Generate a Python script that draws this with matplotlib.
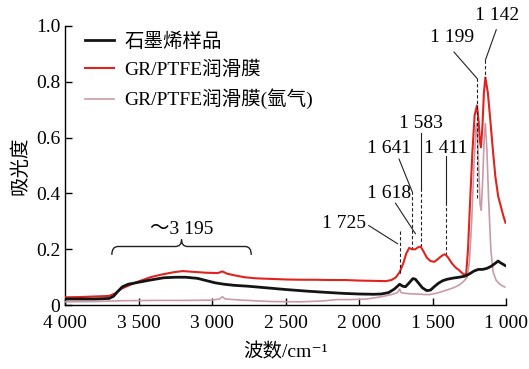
import matplotlib
matplotlib.use("Agg")
import matplotlib.pyplot as plt
from matplotlib.path import Path
from matplotlib.patches import PathPatch

plt.rcParams['font.family'] = ['Liberation Serif', 'Noto Sans CJK SC', 'DejaVu Serif']
plt.rcParams['font.size'] = 14

# 石墨烯样品
graphene_x = [4000, 3800, 3700, 3670, 3640, 3610, 3570, 3500, 3420, 3330, 3250, 3180,
              3100, 3040, 2980, 2920, 2850, 2760, 2650, 2500, 2350, 2200, 2100, 2000,
              1900, 1850, 1800, 1760, 1735, 1725, 1705, 1685, 1660, 1635, 1618, 1595,
              1570, 1540, 1515, 1490, 1460, 1430, 1400, 1360, 1320, 1280, 1250, 1220,
              1190, 1160, 1130, 1100, 1070, 1055, 1040, 1020, 1008]
graphene_y = [0.022, 0.022, 0.024, 0.032, 0.050, 0.066, 0.075, 0.082, 0.090, 0.098, 0.100, 0.100,
              0.096, 0.088, 0.080, 0.075, 0.071, 0.068, 0.063, 0.056, 0.050, 0.045, 0.042, 0.040,
              0.039, 0.040, 0.045, 0.058, 0.070, 0.075, 0.068, 0.066, 0.080, 0.095, 0.093, 0.078,
              0.062, 0.052, 0.054, 0.066, 0.079, 0.088, 0.093, 0.097, 0.100, 0.104, 0.112, 0.122,
              0.128, 0.128, 0.132, 0.140, 0.152, 0.158, 0.152, 0.146, 0.142]

# GR/PTFE润滑膜
film_x = [4000, 3900, 3800, 3700, 3660, 3620, 3560, 3500, 3420, 3340, 3260, 3200,
          3120, 3040, 2960, 2930, 2900, 2850, 2780, 2700, 2600, 2500, 2400, 2300,
          2200, 2100, 2000, 1900, 1820, 1780, 1750, 1725, 1700, 1680, 1660, 1641,
          1620, 1600, 1583, 1565, 1540, 1515, 1490, 1465, 1440, 1420, 1411, 1395,
          1370, 1345, 1320, 1300, 1285, 1272, 1260, 1245, 1230, 1215, 1199, 1188,
          1180, 1172, 1162, 1152, 1142, 1125, 1108, 1090, 1074, 1055, 1040, 1020, 1005]
film_y = [0.028, 0.029, 0.031, 0.033, 0.042, 0.058, 0.072, 0.085, 0.100, 0.110, 0.118, 0.122,
          0.119, 0.116, 0.115, 0.121, 0.113, 0.107, 0.100, 0.096, 0.094, 0.092, 0.091, 0.091,
          0.090, 0.090, 0.088, 0.087, 0.086, 0.090, 0.100, 0.118, 0.150, 0.185, 0.205, 0.200,
          0.200, 0.207, 0.210, 0.195, 0.170, 0.158, 0.155, 0.165, 0.176, 0.182, 0.180, 0.170,
          0.150, 0.135, 0.125, 0.115, 0.108, 0.115, 0.200, 0.380, 0.550, 0.680, 0.715, 0.660,
          0.590, 0.565, 0.640, 0.760, 0.815, 0.760, 0.660, 0.550, 0.460, 0.390, 0.360, 0.320, 0.295]

# GR/PTFE润滑膜(氩气)
argon_x = [4000, 3800, 3600, 3400, 3200, 3000, 2950, 2930, 2910, 2800, 2600, 2400,
           2250, 2150, 2050, 1950, 1850, 1780, 1740, 1725, 1715, 1680, 1640, 1600,
           1560, 1520, 1480, 1440, 1400, 1360, 1320, 1290, 1265, 1250, 1235, 1220,
           1205, 1199, 1188, 1178, 1170, 1160, 1150, 1142, 1132, 1120, 1105, 1090,
           1070, 1050, 1030, 1010]
argon_y = [0.012, 0.013, 0.016, 0.017, 0.017, 0.018, 0.022, 0.030, 0.022, 0.018, 0.013, 0.012,
           0.015, 0.020, 0.020, 0.022, 0.030, 0.038, 0.045, 0.058, 0.045, 0.042, 0.040, 0.040,
           0.038, 0.038, 0.042, 0.048, 0.055, 0.062, 0.072, 0.085, 0.100, 0.160, 0.300, 0.500,
           0.640, 0.650, 0.500, 0.360, 0.340, 0.450, 0.600, 0.650, 0.560, 0.380, 0.200, 0.120,
           0.090, 0.078, 0.070, 0.065]

x_ticks = [4000, 3500, 3000, 2500, 2000, 1500, 1000]
x_tick_labels = ['4 000', '3 500', '3 000', '2 500', '2 000', '1 500', '1 000']
y_ticks = [0, 0.2, 0.4, 0.6, 0.8, 1.0]
y_tick_labels = ['0', '0.2', '0.4', '0.6', '0.8', '1.0']

fig = plt.figure(figsize=(5.29, 3.69), dpi=100)
ax = fig.add_axes([0.123, 0.173, 0.834, 0.757])

ax.plot(film_x, film_y, color='#e0231f', lw=1.5, label='GR/PTFE润滑膜', zorder=3)
ax.plot(argon_x, argon_y, color='#c99ba7', lw=1.2, label='GR/PTFE润滑膜(氩气)', zorder=4)
ax.plot(graphene_x, graphene_y, color='#141414', lw=2.0, label='石墨烯样品', zorder=5)

ax.set_xlim(4000, 1000)
ax.set_ylim(0, 1.0)
ax.set_xticks(x_ticks)
ax.set_xticklabels(x_tick_labels)
ax.set_yticks(y_ticks)
ax.set_yticklabels(y_tick_labels)
ax.tick_params(direction='in', length=5, width=1.0, labelsize=14)
ax.tick_params(axis='x', pad=7)
for side in ['top', 'right']:
    ax.spines[side].set_visible(False)
for side in ['left', 'bottom']:
    ax.spines[side].set_linewidth(1.0)

ax.set_ylabel('吸光度', fontsize=14)
ax.yaxis.set_label_coords(-0.08, 0.5)
ax.set_xlabel('波数/cm⁻¹', fontsize=14)
ax.xaxis.set_label_coords(0.5, -0.135)

handles, labels = ax.get_legend_handles_labels()
order = [2, 0, 1]
ax.legend([handles[i] for i in order], [labels[i] for i in order],
          loc='upper left', bbox_to_anchor=(0.015, 1.025), frameon=False,
          handlelength=1.5, handletextpad=0.5, labelspacing=0.5,
          borderaxespad=0.3, fontsize=14)

# peak markers
ann = dict(color='#222222', lw=0.8, zorder=6)
dash = dict(color='#222222', lw=0.8, ls=(0, (3, 2)), zorder=6)

ax.plot([1725, 1725], [0.265, 0.108], **dash)
ax.plot([1935, 1739], [0.285, 0.22], **ann)
ax.text(2104, 0.292, '1 725', ha='center', va='center')

ax.plot([1753, 1618], [0.365, 0.256], **ann)
ax.text(1794, 0.40, '1 618', ha='center', va='center')

ax.plot([1729, 1641], [0.523, 0.408], **ann)
ax.plot([1641, 1641], [0.408, 0.205], **dash)
ax.text(1797, 0.56, '1 641', ha='center', va='center')

ax.plot([1583, 1583], [0.617, 0.42], **ann)
ax.plot([1583, 1583], [0.42, 0.212], **dash)
ax.text(1583, 0.65, '1 583', ha='center', va='center')

ax.plot([1411, 1411], [0.534, 0.37], **ann)
ax.plot([1411, 1411], [0.37, 0.182], **dash)
ax.text(1411, 0.56, '1 411', ha='center', va='center')

ax.plot([1355, 1199], [0.906, 0.812], **ann)
ax.plot([1199, 1199], [0.812, 0.38], **dash)
ax.text(1368, 0.957, '1 199', ha='center', va='center')

ax.plot([1068, 1142], [0.986, 0.877], clip_on=False, **ann)
ax.plot([1142, 1142], [0.877, 0.815], **dash)
ax.text(1061, 1.036, '1 142', ha='center', va='center', clip_on=False)

# brace over the broad O-H band
bx0, bx1, bmid = 3682, 2734, 3208
yb, yf, yt = 0.18, 0.21, 0.235
brace = Path([(bx0, yb), (bx0, yf), (bx0 - 42, yf),
              (bmid + 42, yf),
              (bmid, yf), (bmid, yt),
              (bmid, yf), (bmid - 42, yf),
              (bx1 + 42, yf),
              (bx1, yf), (bx1, yb)],
             [Path.MOVETO, Path.CURVE3, Path.CURVE3,
              Path.LINETO,
              Path.CURVE3, Path.CURVE3,
              Path.CURVE3, Path.CURVE3,
              Path.LINETO,
              Path.CURVE3, Path.CURVE3])
ax.add_patch(PathPatch(brace, fill=False, color='#222222', lw=1.0))
ax.text(3208, 0.27, '～3 195', ha='center', va='center')

fig.savefig('out.png', dpi=100)
